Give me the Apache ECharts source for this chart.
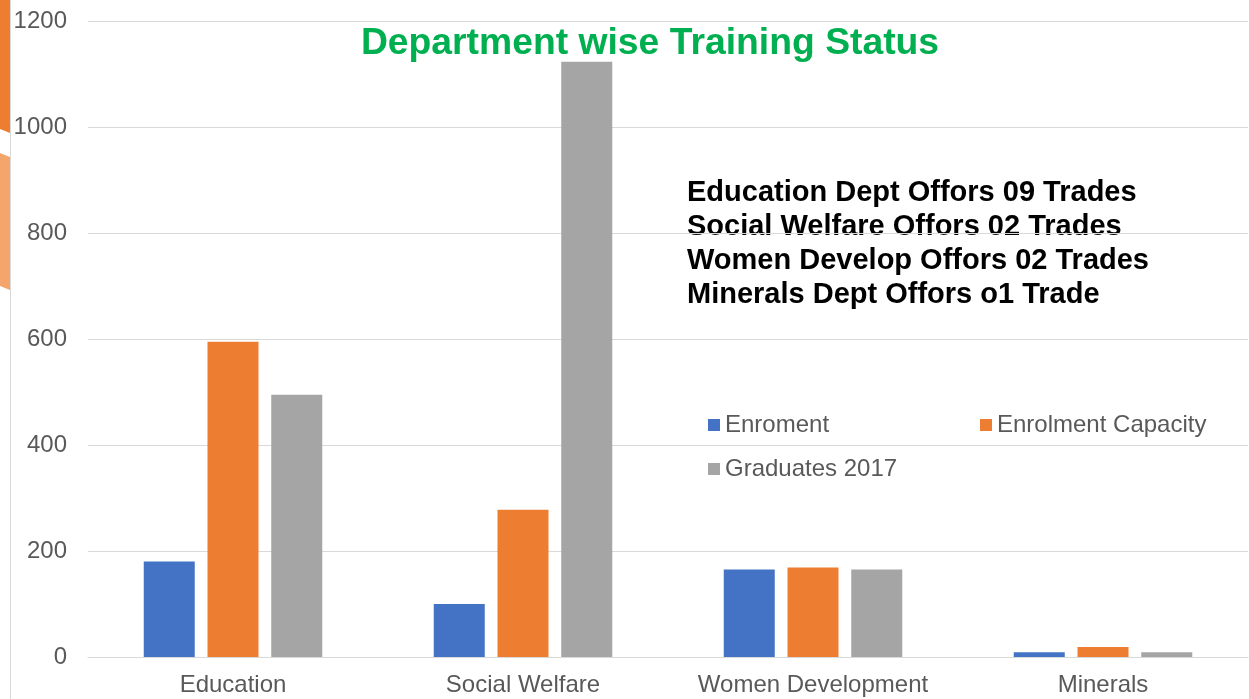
<!DOCTYPE html>
<html><head><meta charset="utf-8">
<script src="https://cdn.jsdelivr.net/npm/echarts@6/dist/echarts.min.js"></script>
<style>html,body{margin:0;padding:0;background:#fff}#c{width:1249px;height:699px}</style>
</head><body><div id="c"></div>
<script>
const categories = ['Education', 'Social Welfare', 'Women Development', 'Minerals'];
const enrolment = [180, 100, 165, 9];
const enrolmentCapacity = [595, 278, 169, 19];
const graduates2017 = [495, 1123, 165, 9];
const seriesNames = ['Enroment', 'Enrolment Capacity', 'Graduates 2017'];
const noteLines = ['Education Dept Offors 09 Trades', 'Social Welfare Offors 02 Trades', 'Women Develop Offors 02 Trades', 'Minerals Dept Offors o1 Trade'];
const colors = ['#4472C4', '#ED7D31', '#A5A5A5'];

const chart = echarts.init(document.getElementById('c'), null, {renderer: 'canvas'});
const font = '"Liberation Sans", Arial, sans-serif';
const legendText = {fontFamily: font, fontSize: 24, color: '#595959'};
chart.setOption({
  animation: false,
  color: colors,
  title: {
    text: 'Department wise Training Status', left: 645, top: 20, textAlign: 'center',
    textStyle: {fontFamily: font, fontSize: 37.3, fontWeight: 'bold', color: '#00B050'}
  },
  legend: [
    {data: [seriesNames[0]], left: 708, top: 413, padding: 0, itemWidth: 12, itemHeight: 12, textStyle: legendText, icon: 'rect'},
    {data: [seriesNames[1]], left: 980, top: 413, padding: 0, itemWidth: 12, itemHeight: 12, textStyle: legendText, icon: 'rect'},
    {data: [seriesNames[2]], left: 708, top: 457, padding: 0, itemWidth: 12, itemHeight: 12, textStyle: legendText, icon: 'rect'}
  ],
  grid: {left: 88, right: 1, top: 21, bottom: 42, containLabel: false},
  xAxis: {
    type: 'category', data: categories,
    axisLine: {lineStyle: {color: '#D9D9D9', width: 1}},
    axisTick: {show: false},
    axisLabel: {fontFamily: font, fontSize: 24, color: '#595959', margin: 16, interval: 0}
  },
  yAxis: {
    type: 'value', min: 0, max: 1200, interval: 200,
    axisLine: {show: false}, axisTick: {show: false},
    splitLine: {lineStyle: {color: '#D9D9D9', width: 1}},
    axisLabel: {fontFamily: font, fontSize: 24, color: '#595959', margin: 21, formatter: v => String(v)}
  },
  series: [
    {name: seriesNames[0], type: 'bar', data: enrolment, barWidth: 51, barGap: '25%'},
    {name: seriesNames[1], type: 'bar', data: enrolmentCapacity, barWidth: 51, barGap: '25%'},
    {name: seriesNames[2], type: 'bar', data: graduates2017, barWidth: 51, barGap: '25%'}
  ],
  graphic: [
    {type: 'polygon', shape: {points: [[0,0],[10,0],[10,133],[0,129]]}, style: {fill: '#ED7D31'}, silent: true},
    {type: 'polygon', shape: {points: [[0,153],[10,157],[10,290],[0,286]]}, style: {fill: '#F4A56B'}, silent: true},
    {type: 'line', shape: {x1: 10.5, y1: 0, x2: 10.5, y2: 699}, style: {stroke: '#D9D9D9', lineWidth: 1}, silent: true},
    {type: 'text', left: 687, top: 176, silent: true,
      style: {text: noteLines.join('\n'), fontFamily: font, fontSize: 29, fontWeight: 'bold', fill: '#000', lineHeight: 34}}
  ]
});
</script></body></html>
